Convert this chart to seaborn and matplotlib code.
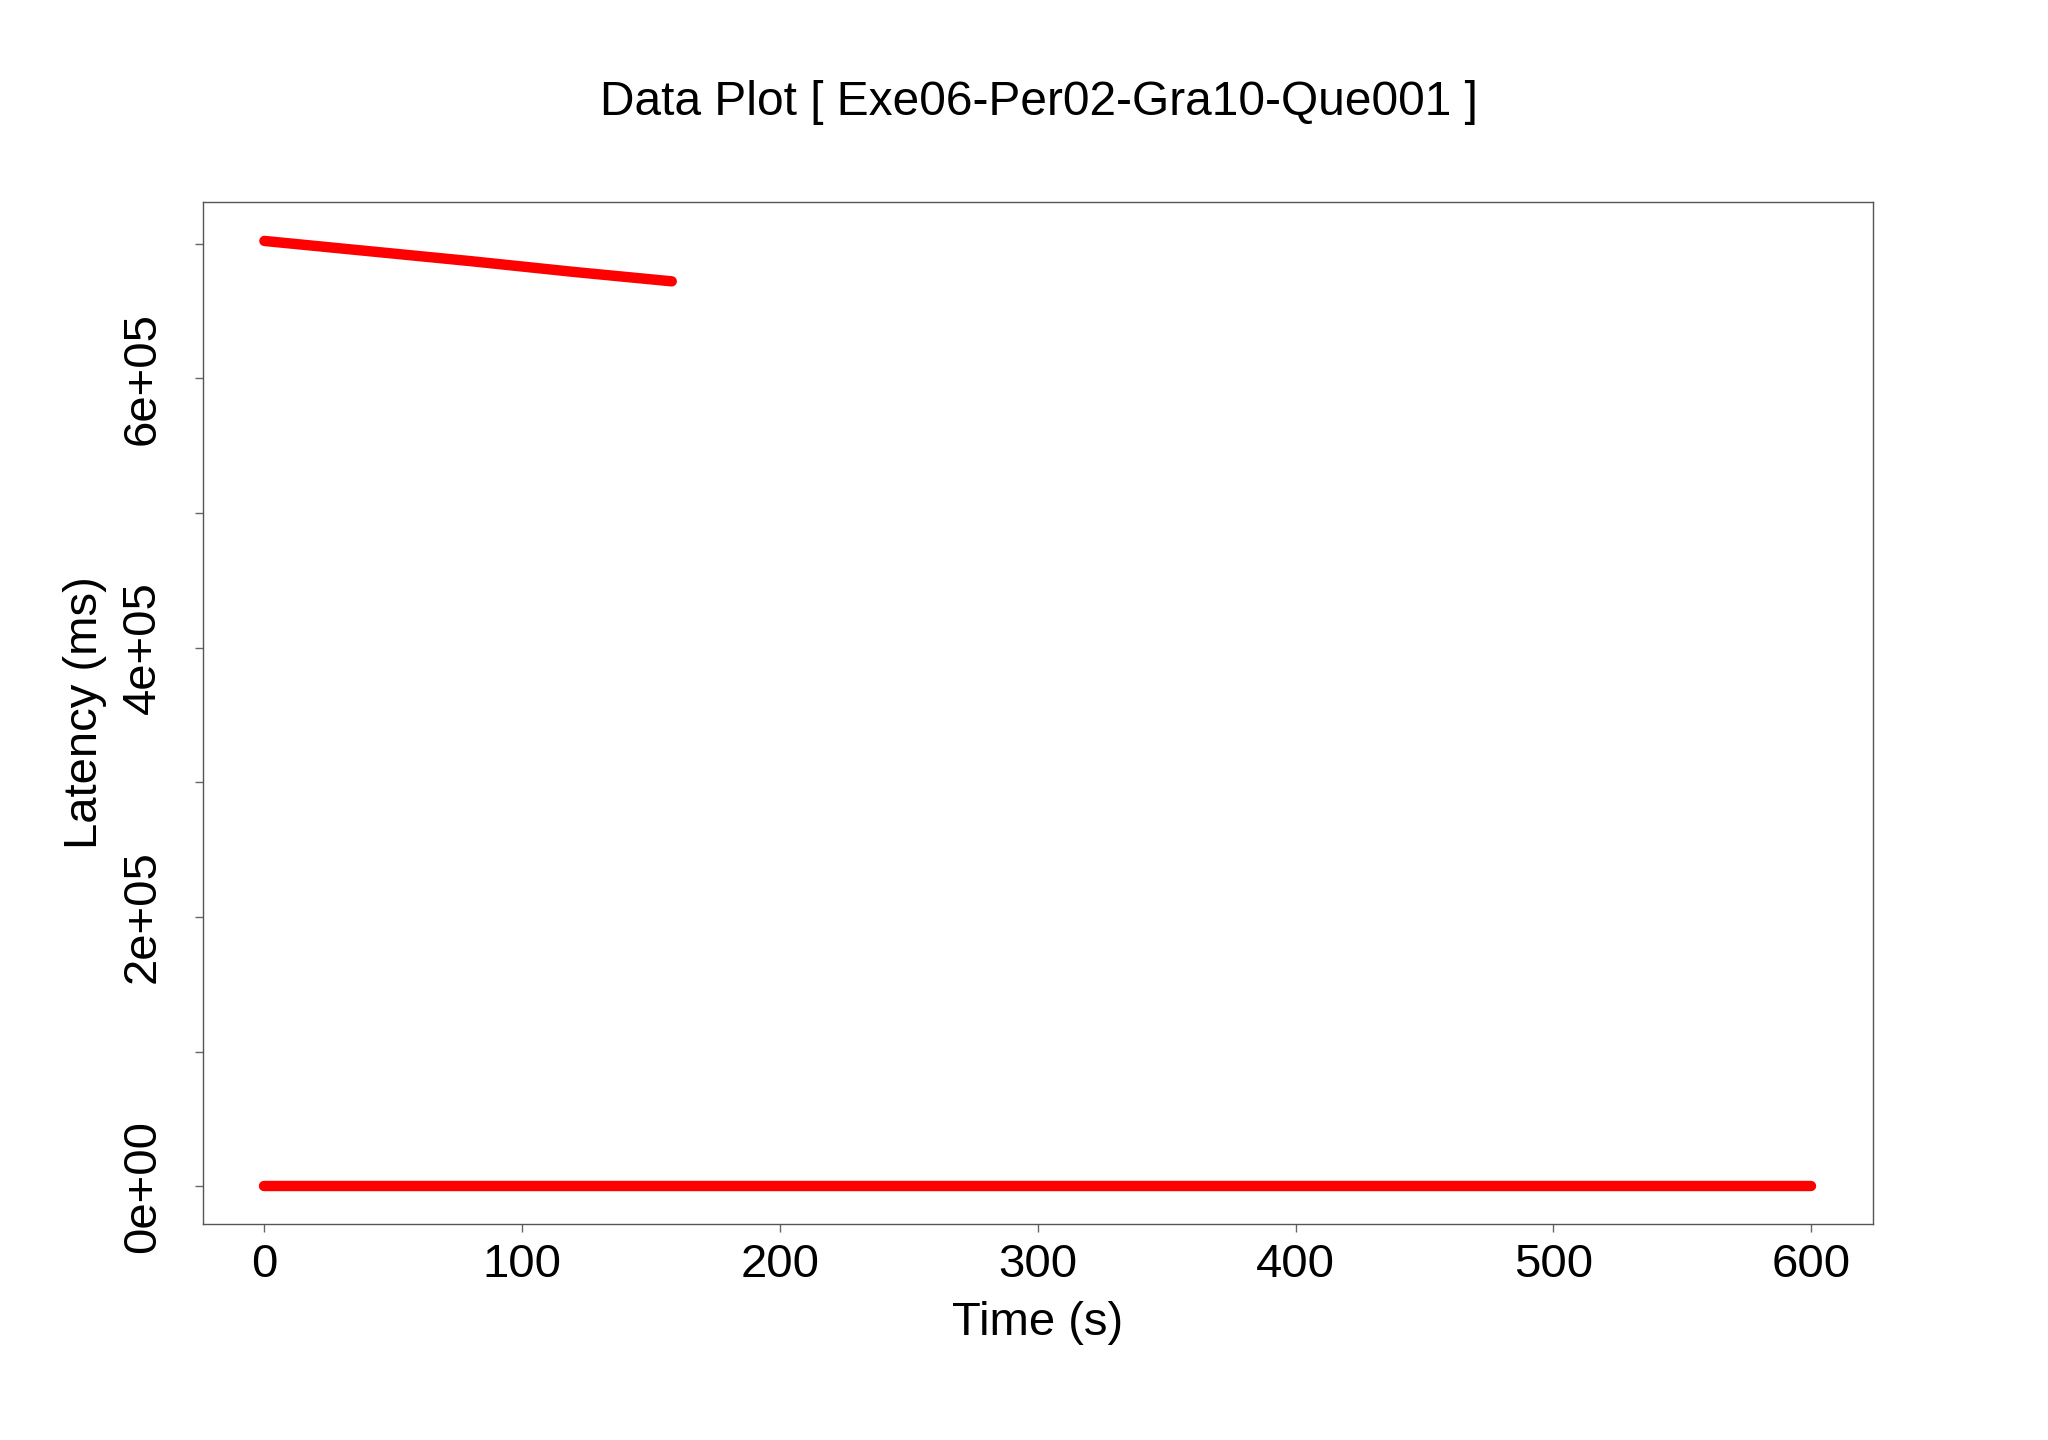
import matplotlib
matplotlib.use("Agg")
import matplotlib.pyplot as plt
import seaborn as sns
import pandas as pd

# values
upper_time = [0, 40, 80, 120, 158]
upper_latency = [702000, 694500, 687000, 679000, 672000]
lower_time = [0, 150, 300, 450, 600]
lower_latency = [0, 0, 0, 0, 0]

x_ticks = [0, 100, 200, 300, 400, 500, 600]
y_major = [0, 200000, 400000, 600000]
y_minor = [100000, 300000, 500000, 700000]
y_labels = ["0e+00", "2e+05", "4e+05", "6e+05"]

sns.set_theme(style="white")
plt.rcParams['font.family'] = ['Liberation Sans', 'DejaVu Sans']
plt.rcParams['text.color'] = 'black'
plt.rcParams['axes.labelcolor'] = 'black'
plt.rcParams['xtick.color'] = 'black'
plt.rcParams['ytick.color'] = 'black'

upper = pd.DataFrame({'time': upper_time, 'latency': upper_latency})
lower = pd.DataFrame({'time': lower_time, 'latency': lower_latency})

fig = plt.figure(figsize=(20.48, 14.4), dpi=100)
ax = fig.add_axes([0.0989, 0.150, 0.8157, 0.7097])

for d in (upper, lower):
    sns.lineplot(data=d, x='time', y='latency', ax=ax, color='#ff0000',
                 linewidth=7.5, solid_capstyle='round', estimator=None)

ax.set_xlim(-24, 624)
ax.set_ylim(-28100, 730900)

ax.set_xticks(x_ticks)
ax.set_xticklabels([str(t) for t in x_ticks])
ax.set_yticks(y_major)
ax.set_yticklabels(y_labels, rotation=90, va='center')
ax.set_yticks(y_minor, minor=True)

ax.tick_params(axis='both', which='both', direction='out', length=6,
               width=1, color='#666666', labelsize=34, pad=8,
               bottom=True, left=True)
ax.tick_params(axis='y', which='major', pad=21)

for s in ax.spines.values():
    s.set_color('#555555')
    s.set_linewidth(1.0)

ax.set_xlabel('Time (s)', fontsize=34, labelpad=10)
ax.set_ylabel('Latency (ms)', fontsize=34, labelpad=10)

# R centres the title over the plot region
fig.text(0.5074, 0.929, 'Data Plot [ Exe06-Per02-Gra10-Que001 ]',
         fontsize=34.5, ha='center', va='center', color='black')

fig.savefig('out.png', dpi=100)
